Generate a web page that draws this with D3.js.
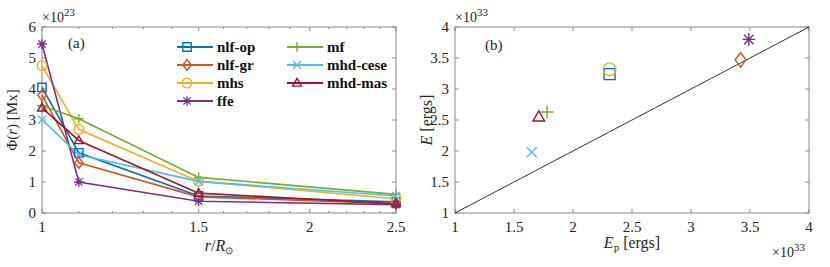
<!DOCTYPE html>
<html>
<head>
<meta charset="utf-8">
<script src="https://cdn.jsdelivr.net/npm/d3@7"></script>
<style>
  body { margin: 0; background: #fff; }
</style>
</head>
<body>
<div id="chart"></div>
<script>
// Data: panel (a) flux vs radius, panel (b) energy vs potential energy
var radii = [1, 1.1, 1.5, 2.5];
var models = ["nlf-op", "nlf-gr", "mhs", "ffe", "mf", "mhd-cese", "mhd-mas"];
var colors = ["#0072BD", "#D95319", "#EDB120", "#7E2F8E", "#77AC30", "#4DBEEE", "#A2142F"];
var markers = ["square", "diamond", "circle", "star", "plus", "cross", "triangle"];

// flux in units of 1e23 Mx
var fluxNlfOp   = [4.05, 1.94, 0.55, 0.36];
var fluxNlfGr   = [3.80, 1.62, 0.52, 0.30];
var fluxMhs     = [4.75, 2.70, 1.02, 0.46];
var fluxFfe     = [5.45, 1.00, 0.38, 0.27];
var fluxMf      = [3.46, 3.04, 1.15, 0.60];
var fluxMhdCese = [3.01, 1.88, 1.02, 0.55];
var fluxMhdMas  = [3.39, 2.34, 0.64, 0.30];
var fluxSeries = [fluxNlfOp, fluxNlfGr, fluxMhs, fluxFfe, fluxMf, fluxMhdCese, fluxMhdMas];

// energies in units of 1e33 ergs
var potentialEnergy = [2.31, 3.42, 2.31, 3.49, 1.78, 1.65, 1.71];
var totalEnergy     = [3.24, 3.47, 3.32, 3.80, 2.63, 1.98, 2.55];

var xTicksA = [1, 1.5, 2, 2.5];
var yTicksA = [0, 1, 2, 3, 4, 5, 6];
var ticksB = [1, 1.5, 2, 2.5, 3, 3.5, 4];

var width = 830, height = 267;
var axisColor = "#8a8a8a";
var textColor = "#262626";

var svg = d3.select("#chart").append("svg")
    .attr("width", width)
    .attr("height", height);

// marker path generator
function markerPath(type, s) {
    switch (type) {
        case "square": return `M${-s},${-s}H${s}V${s}H${-s}Z`;
        case "diamond": return `M0,${-s * 1.3}L${s},0L0,${s * 1.3}L${-s},0Z`;
        case "circle": return `M${s},0A${s},${s} 0 1,1 ${-s},0A${s},${s} 0 1,1 ${s},0`;
        case "plus": return `M${-s},0H${s}M0,${-s}V${s}`;
        case "cross": var c = s * 0.8; return `M${-c},${-c}L${c},${c}M${-c},${c}L${c},${-c}`;
        case "star": var d = s * 0.75; return `M${-s},0H${s}M0,${-s}V${s}M${-d},${-d}L${d},${d}M${-d},${d}L${d},${-d}`;
        case "triangle": return `M0,${-s * 1.1}L${s * 1.05},${s * 0.75}L${-s * 1.05},${s * 0.75}Z`;
    }
}
function markerSize(type, base) {
    if (type === "circle") return base * 1.15;
    if (type === "plus" || type === "star" || type === "cross") return base * 1.15;
    return base;
}

// draw a MATLAB-like box with inward ticks
function drawBox(g, x, y, xTicks, yTicks, minorX) {
    var x0 = x.range()[0], x1 = x.range()[1];
    var y0 = y.range()[0], y1 = y.range()[1];
    var tl = 4;
    g.append("rect")
        .attr("x", x0).attr("y", y1)
        .attr("width", x1 - x0).attr("height", y0 - y1)
        .attr("fill", "none").attr("stroke", axisColor).attr("stroke-width", 1);
    xTicks.forEach(function(t) {
        g.append("line").attr("x1", x(t)).attr("x2", x(t)).attr("y1", y0).attr("y2", y0 - tl).attr("stroke", axisColor);
        g.append("line").attr("x1", x(t)).attr("x2", x(t)).attr("y1", y1).attr("y2", y1 + tl).attr("stroke", axisColor);
    });
    (minorX || []).forEach(function(t) {
        g.append("line").attr("x1", x(t)).attr("x2", x(t)).attr("y1", y0).attr("y2", y0 - 2).attr("stroke", axisColor);
        g.append("line").attr("x1", x(t)).attr("x2", x(t)).attr("y1", y1).attr("y2", y1 + 2).attr("stroke", axisColor);
    });
    yTicks.forEach(function(t) {
        g.append("line").attr("x1", x0).attr("x2", x0 + tl).attr("y1", y(t)).attr("y2", y(t)).attr("stroke", axisColor);
        g.append("line").attr("x1", x1).attr("x2", x1 - tl).attr("y1", y(t)).attr("y2", y(t)).attr("stroke", axisColor);
    });
    g.selectAll(".xt").data(xTicks).enter().append("text")
        .attr("x", d => x(d)).attr("y", y0 + 19)
        .attr("text-anchor", "middle").attr("font-size", 15)
        .text(d => d);
    g.selectAll(".yt").data(yTicks).enter().append("text")
        .attr("x", x0 - 6).attr("y", d => y(d) + 5)
        .attr("text-anchor", "end").attr("font-size", 15)
        .text(d => d);
}

// ---------- panel (a) ----------
var xA = d3.scaleLog().domain([1, 2.5]).range([42, 396]);
var yA = d3.scaleLinear().domain([0, 6]).range([213, 27]);
var gA = svg.append("g");

var minorA = d3.range(11, 25).map(d => d / 10).filter(d => xTicksA.indexOf(d) < 0);
drawBox(gA, xA, yA, xTicksA, yTicksA, minorA);

var line = d3.line().x((d, i) => xA(radii[i])).y(d => yA(d));
fluxSeries.forEach(function(series, k) {
    gA.append("path")
        .attr("d", line(series))
        .attr("fill", "none")
        .attr("stroke", colors[k])
        .attr("stroke-width", 1.6);
});
fluxSeries.forEach(function(series, k) {
    gA.selectAll(null).data(series).enter().append("path")
        .attr("transform", (d, i) => `translate(${xA(radii[i])},${yA(d)})`)
        .attr("d", markerPath(markers[k], markerSize(markers[k], 4.2)))
        .attr("fill", "none")
        .attr("stroke", colors[k])
        .attr("stroke-width", 1.4);
});

gA.append("text").attr("x", 68).attr("y", 48).attr("font-size", 15).text("(a)");

// legend
models.forEach(function(m, k) {
    var col = k < 4 ? 0 : 1;
    var row = k < 4 ? k : k - 4;
    var lx = col === 0 ? 177 : 287;
    var ly = 47 + row * 18;
    gA.append("line").attr("x1", lx).attr("x2", lx + 36).attr("y1", ly).attr("y2", ly)
        .attr("stroke", colors[k]).attr("stroke-width", 2);
    gA.append("path")
        .attr("transform", `translate(${lx + 10},${ly})`)
        .attr("d", markerPath(markers[k], markerSize(markers[k], 4.2)))
        .attr("fill", "none").attr("stroke", colors[k]).attr("stroke-width", 1.4);
    gA.append("text").attr("x", lx + 40).attr("y", ly + 5)
        .attr("font-size", 15).attr("font-weight", "bold")
        .attr("class", "legend-text")
        .text(m);
});

// exponent and axis labels
var expA = gA.append("text").attr("x", 42).attr("y", 22).attr("font-size", 14);
expA.append("tspan").text("×10");
expA.append("tspan").attr("dy", -6).attr("font-size", 11).text("23");

var ylabA = gA.append("text")
    .attr("transform", "translate(17,120) rotate(-90)")
    .attr("text-anchor", "middle").attr("font-size", 15);
ylabA.append("tspan").text("Φ(");
ylabA.append("tspan").attr("font-style", "italic").text("r");
ylabA.append("tspan").text(")  [Mx]");

var xlabA = gA.append("text").attr("x", 219).attr("y", 251)
    .attr("text-anchor", "middle").attr("font-size", 16);
xlabA.append("tspan").attr("font-style", "italic").text("r");
xlabA.append("tspan").text("/");
xlabA.append("tspan").attr("font-style", "italic").text("R");
xlabA.append("tspan").attr("dy", 3).attr("font-size", 10).text("⊙");

// ---------- panel (b) ----------
var xB = d3.scaleLinear().domain([1, 4]).range([455, 809]);
var yB = d3.scaleLinear().domain([1, 4]).range([213, 27]);
var gB = svg.append("g");
drawBox(gB, xB, yB, ticksB, ticksB);

gB.append("line")
    .attr("x1", xB(1)).attr("y1", yB(1)).attr("x2", xB(4)).attr("y2", yB(4))
    .attr("stroke", "#000").attr("stroke-width", 0.8);

gB.selectAll(".pt").data(models).enter().append("path")
    .attr("transform", (d, i) => `translate(${xB(potentialEnergy[i])},${yB(totalEnergy[i])})`)
    .attr("d", (d, i) => markerPath(markers[i], markerSize(markers[i], 5.5)))
    .attr("fill", "none")
    .attr("stroke", (d, i) => colors[i])
    .attr("stroke-width", 1.4);

gB.append("text").attr("x", 485).attr("y", 50).attr("font-size", 15).text("(b)");

var expB = gB.append("text").attr("x", 455).attr("y", 22).attr("font-size", 14);
expB.append("tspan").text("×10");
expB.append("tspan").attr("dy", -6).attr("font-size", 11).text("33");

var expBx = gB.append("text").attr("x", 772).attr("y", 257).attr("font-size", 14);
expBx.append("tspan").text("×10");
expBx.append("tspan").attr("dy", -6).attr("font-size", 11).text("33");

var ylabB = gB.append("text")
    .attr("transform", "translate(432,120) rotate(-90)")
    .attr("text-anchor", "middle").attr("font-size", 16);
ylabB.append("tspan").attr("font-style", "italic").text("E");
ylabB.append("tspan").text("  [ergs]");

var xlabB = gB.append("text").attr("x", 632).attr("y", 248)
    .attr("text-anchor", "middle").attr("font-size", 16);
xlabB.append("tspan").attr("font-style", "italic").text("E");
xlabB.append("tspan").attr("dy", 3).attr("font-size", 11).text("p");
xlabB.append("tspan").attr("dy", -3).text("  [ergs]");

// serif font for every label
svg.selectAll("text")
    .attr("font-family", "Liberation Serif")
    .attr("fill", textColor);
svg.selectAll(".legend-text").attr("fill", "#111");
</script>
</body>
</html>
